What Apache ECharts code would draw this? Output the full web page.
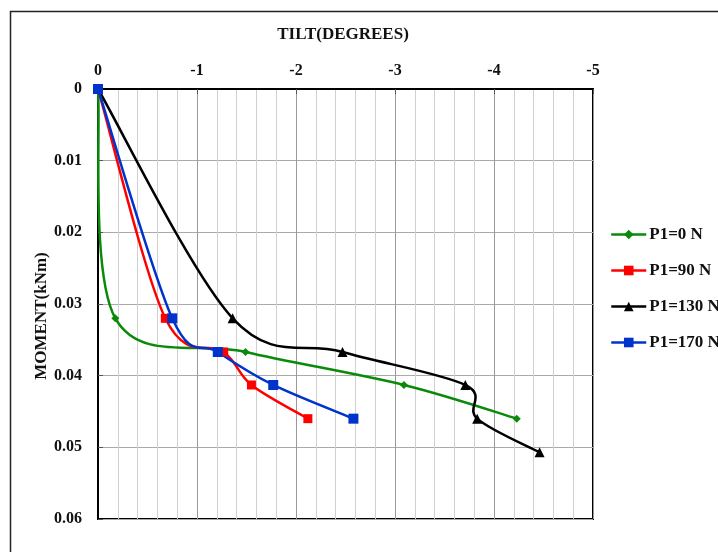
<!DOCTYPE html>
<html><head><meta charset="utf-8">
<script src="https://cdn.jsdelivr.net/npm/echarts@6/dist/echarts.min.js"></script>
<style>html,body{margin:0;padding:0;background:#fff}#c{width:718px;height:552px}</style>
</head><body><div id="c"></div>
<script>
const moment = [0, 0.032, 0.0367, 0.0413, 0.046];
const momentBlack = [0, 0.032, 0.0367, 0.0413, 0.046, 0.0507];
const tiltP0 = [0, -0.175, -1.49, -3.09, -4.23];
const tiltP90 = [0, -0.68, -1.27, -1.55, -2.12];
const tiltP130 = [0, -1.36, -2.47, -3.71, -3.83, -4.46];
const tiltP170 = [0, -0.75, -1.21, -1.77, -2.58];
const seriesNames = ['P1=0 N', 'P1=90 N', 'P1=130 N', 'P1=170 N'];
const xTitle = 'TILT(DEGREES)';
const yTitle = 'MOMENT(kNm)';

const pair = (xs, ys) => xs.map((x, i) => [x, ys[i]]);
const font = '"Liberation Serif","Times New Roman",serif';
const colors = ['#0a8a0a', '#ff0000', '#000000', '#0033cc'];
const datasets = [pair(tiltP0, moment), pair(tiltP90, moment), pair(tiltP130, momentBlack), pair(tiltP170, moment)];

// Excel-style smoothed curve (Catmull-Rom, tension 1/6) in pixel space via the chart's own scale
function curveSeries(data, color) {
  return {
    type: 'custom', silent: true, z: 2, clip: false,
    data: [[0, 0]],
    renderItem: function (params, api) {
      const p = data.map(d => api.coord(d));
      const n = p.length;
      let d = 'M' + p[0][0] + ' ' + p[0][1];
      for (let i = 0; i < n - 1; i++) {
        const p0 = p[Math.max(i - 1, 0)], p1 = p[i], p2 = p[i + 1], p3 = p[Math.min(i + 2, n - 1)];
        const c1x = p1[0] + (p2[0] - p0[0]) / 6, c1y = p1[1] + (p2[1] - p0[1]) / 6;
        const c2x = p2[0] - (p3[0] - p1[0]) / 6, c2y = p2[1] - (p3[1] - p1[1]) / 6;
        d += ' C' + c1x + ' ' + c1y + ' ' + c2x + ' ' + c2y + ' ' + p2[0] + ' ' + p2[1];
      }
      return {type: 'path', shape: {pathData: d}, style: {fill: 'none', stroke: color, lineWidth: 2.5, lineJoin: 'round'}};
    }
  };
}
const mk = (name, data, color, symbol, size) => ({
  name, type: 'line', data, symbol, symbolSize: size,
  lineStyle: {color, width: 2.5, opacity: 0}, itemStyle: {color}, z: 3
});
const chart = echarts.init(document.getElementById('c'), null, {renderer: 'canvas'});
chart.setOption({
  animation: false,
  grid: {left: 98, top: 89, width: 495, height: 430, show: true, borderColor: '#000', borderWidth: 2, backgroundColor: 'transparent'},
  xAxis: {
    type: 'value', position: 'top', inverse: true, min: -5, max: 0, interval: 1,
    axisLine: {show: true, onZero: false, lineStyle: {color: '#000', width: 2}},
    axisTick: {show: true, inside: true, length: 5, lineStyle: {color: '#555'}},
    axisLabel: {fontFamily: font, fontWeight: 'bold', fontSize: 16, color: '#111', margin: 10},
    splitLine: {show: true, lineStyle: {color: '#999', width: 1}},
    minorTick: {show: false, splitNumber: 5},
    minorSplitLine: {show: true, lineStyle: {color: '#d0d0d0', width: 1}}
  },
  yAxis: {
    type: 'value', inverse: true, min: 0, max: 0.06, interval: 0.01,
    axisLine: {show: true, onZero: false, lineStyle: {color: '#000', width: 2}},
    axisTick: {show: true, inside: true, length: 5, lineStyle: {color: '#555'}},
    axisLabel: {fontFamily: font, fontWeight: 'bold', fontSize: 16, color: '#111', margin: 16},
    splitLine: {show: true, lineStyle: {color: '#aaa', width: 1}}
  },
  legend: {
    orient: 'vertical', left: 605, top: 221, itemWidth: 35, itemHeight: 12, itemGap: 19,
    lineStyle: {opacity: 1, width: 2.5},
    textStyle: {fontFamily: font, fontWeight: 'bold', fontSize: 17, color: '#111', padding: [0,0,0,-2]},
    data: seriesNames
  },
  graphic: [
    {type: 'rect', left: 8, top: 9, shape: {width: 720, height: 560}, style: {fill: 'none', stroke: '#222', lineWidth: 1.5}, silent: true, z: -1},
    {type: 'text', x: 343, y: 35, style: {text: xTitle, font: 'bold 17px ' + font, fill: '#111', textAlign: 'center', textVerticalAlign: 'middle'}},
    {type: 'text', x: 42, y: 316, rotation: Math.PI / 2, style: {text: yTitle, font: 'bold 17px ' + font, fill: '#111', textAlign: 'center', textVerticalAlign: 'middle'}}
  ],
  series: [
    curveSeries(datasets[0], colors[0]),
    curveSeries(datasets[1], colors[1]),
    curveSeries(datasets[2], colors[2]),
    curveSeries(datasets[3], colors[3]),
    mk(seriesNames[0], datasets[0], colors[0], 'diamond', 8),
    mk(seriesNames[1], datasets[1], colors[1], 'rect', 9),
    mk(seriesNames[2], datasets[2], colors[2], 'triangle', 10),
    mk(seriesNames[3], datasets[3], colors[3], 'rect', 10)
  ]
});
</script></body></html>
